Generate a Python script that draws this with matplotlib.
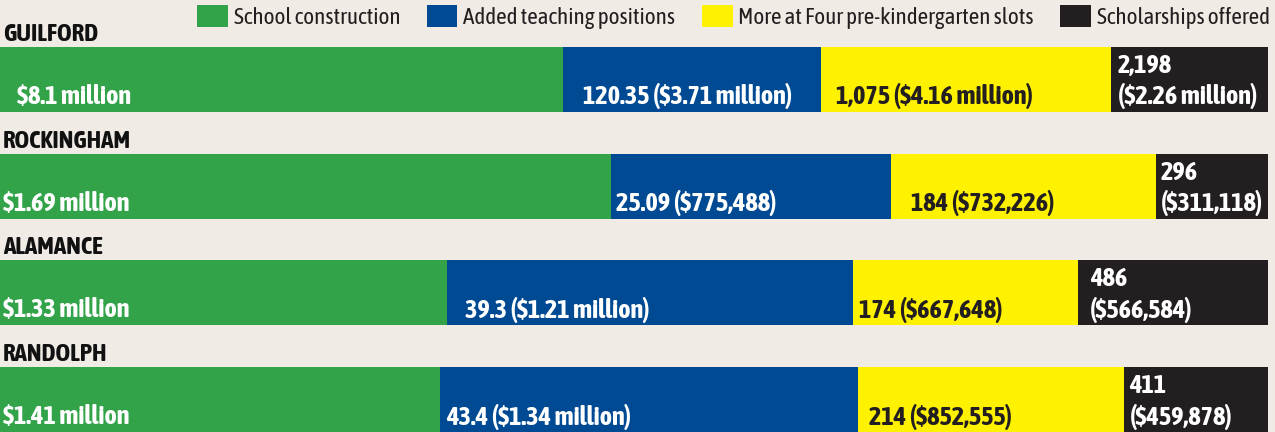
import numpy as np
import matplotlib.pyplot as plt
from matplotlib.patches import Patch
from matplotlib import font_manager as fm

counties = ["GUILFORD", "ROCKINGHAM", "ALAMANCE", "RANDOLPH"]
categories = ["School construction", "Added teaching positions",
              "More at Four pre-kindergarten slots", "Scholarships offered"]

# dollar amounts in millions (bar widths are share of each county's total)
construction = [8.1, 1.69, 1.33, 1.41]
teaching = [3.71, 0.775488, 1.21, 1.34]
prek = [4.16, 0.732226, 0.667648, 0.852555]
scholar = [2.26, 0.311118, 0.566584, 0.459878]

# counts shown in labels
positions = ["120.35", "25.09", "39.3", "43.4"]
slots = ["1,075", "184", "174", "214"]
awards = ["2,198", "296", "486", "411"]

construction_txt = ["$8.1 million", "$1.69 million", "$1.33 million", "$1.41 million"]
teaching_txt = ["$3.71 million", "$775,488", "$1.21 million", "$1.34 million"]
prek_txt = ["$4.16 million", "$732,226", "$667,648", "$852,555"]
scholar_txt = ["$2.26 million", "$311,118", "$566,584", "$459,878"]

colors = ["#33a34a", "#004a93", "#fff200", "#231f20"]
txtcol = ["white", "white", "#231f20", "white"]
bg = "#f0ebe5"
# label nudges from segment start, pixels
pad = [[17, 20, 15, 7], [3, 5, 20, 5], [3, 18, 6, 12], [3, 6, 11, 5]]

installed = {f.name for f in fm.fontManager.ttflist}
if 'Asap Condensed' in installed:
    plt.rcParams['font.family'] = ['Asap Condensed', 'DejaVu Sans']
    k = 1.0
else:
    plt.rcParams['font.family'] = ['DejaVu Sans']
    k = 0.72

fig = plt.figure(figsize=(12.75, 4.32), dpi=100, facecolor=bg)
ax = fig.add_axes([0, 0, 1, 1])
ax.set_facecolor(bg)

vals = np.array([construction, teaching, prek, scholar]).T
share = vals / vals.sum(axis=1, keepdims=True)
left = np.cumsum(share, axis=1) - share
y = np.arange(len(counties))

for j in range(4):
    ax.barh(y, share[:, j], left=left[:, j], height=0.609, color=colors[j],
            linewidth=0)

for i in range(len(counties)):
    ax.annotate(counties[i], (0, y[i] - 0.3045), xytext=(3, 6),
                textcoords='offset pixels', ha='left', va='baseline',
                fontsize=18 * k, fontweight='bold', color='#111111')
    labels = [construction_txt[i],
              f"{positions[i]} ({teaching_txt[i]})",
              f"{slots[i]} ({prek_txt[i]})",
              f"({scholar_txt[i]})"]
    for j in range(4):
        ax.annotate(labels[j], (left[i, j], y[i]), xytext=(pad[i][j], -17),
                    textcoords='offset pixels', ha='left', va='center',
                    fontsize=19 * k, fontweight='bold', color=txtcol[j])
    ax.annotate(awards[i], (left[i, 3], y[i]), xytext=(pad[i][3], 14),
                textcoords='offset pixels', ha='left', va='center',
                fontsize=19 * k, fontweight='bold', color=txtcol[3])

handles = [Patch(facecolor=c, edgecolor='none') for c in colors]
leg = ax.legend(handles, categories, ncol=4, loc='upper right',
                bbox_to_anchor=(1.0, 1.0), frameon=False,
                fontsize=16.7 * k, handlelength=1.32, handleheight=1.07,
                handletextpad=0.25, columnspacing=1.15, borderpad=0.22,
                borderaxespad=0)
for t in leg.get_texts():
    t.set_color('#231f20')

ax.set_xlim(0, 1275 / 1268)
ax.set_ylim(3.304, -0.745)
ax.axis('off')

fig.savefig("out.png", dpi=100, facecolor=bg)
